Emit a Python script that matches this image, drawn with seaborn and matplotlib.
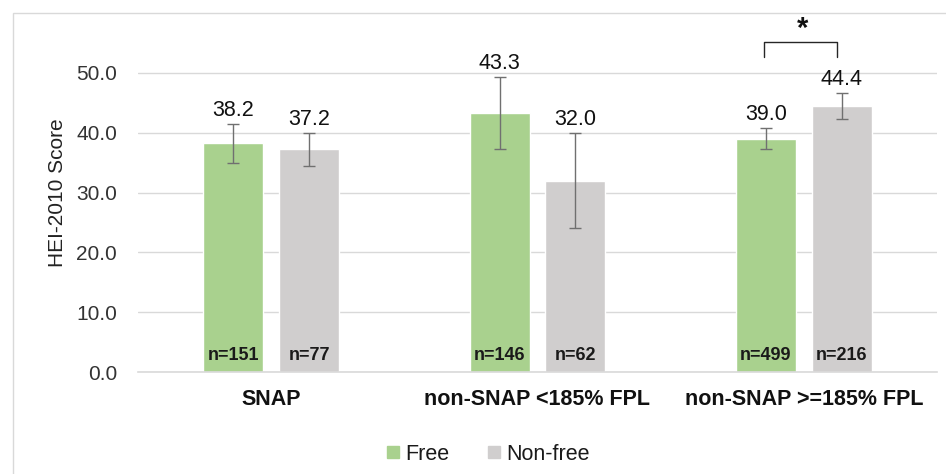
import matplotlib
matplotlib.use("Agg")
import matplotlib.pyplot as plt
import seaborn as sns
import pandas as pd
import numpy as np
from matplotlib.patches import Rectangle
from matplotlib.lines import Line2D

groups = ["SNAP", "non-SNAP <185% FPL", "non-SNAP >=185% FPL"]
lunch = ["Free", "Non-free"]
free_scores = [38.2, 43.3, 39.0]
nonfree_scores = [37.2, 32.0, 44.4]
free_err = [3.2, 6.05, 1.75]
nonfree_err = [2.8, 8.0, 2.15]
free_n = [151, 146, 499]
nonfree_n = [77, 62, 216]

df = pd.DataFrame({
    "group": groups * 2,
    "lunch": [lunch[0]] * 3 + [lunch[1]] * 3,
    "score": free_scores + nonfree_scores,
    "err": free_err + nonfree_err,
    "n": free_n + nonfree_n,
})

sns.set_theme(style="white")
plt.rcParams["font.family"] = ["Liberation Sans", "DejaVu Sans"]

palette = {"Free": "#A9D18E", "Non-free": "#D0CECE"}

fig = plt.figure(figsize=(9.46, 4.74), dpi=100)
ax = fig.add_axes([138 / 946, 1 - 372 / 474, (937 - 138) / 946, (372 - 13) / 474])

sns.barplot(data=df, x="group", y="score", hue="lunch", order=groups,
            hue_order=lunch, palette=palette, width=0.57, gap=0.21,
            errorbar=None, saturation=1, legend=False, ax=ax)

ax.set_ylim(0, 60)
ax.set_xlim(-0.5, 2.5)
ax.set_yticks([0, 10, 20, 30, 40, 50])
ax.set_yticklabels([f"{v:.1f}" for v in [0, 10, 20, 30, 40, 50]],
                   fontsize=15, color="#333333")
ax.tick_params(axis="y", length=0, pad=15)
ax.tick_params(axis="x", length=0, pad=12)
for lbl in ax.get_xticklabels():
    lbl.set_fontweight("bold")
    lbl.set_fontsize(15.5)
    lbl.set_color("#111111")
ax.set_xlabel("")
ax.set_ylabel("HEI-2010 Score", fontsize=15, color="#222222", labelpad=7)

ax.set_axisbelow(True)
ax.yaxis.grid(True, color="#D9D9D9", linewidth=1)
ax.xaxis.grid(False)
for s in ["top", "right", "left"]:
    ax.spines[s].set_visible(False)
ax.spines["bottom"].set_color("#D9D9D9")
ax.spines["bottom"].set_linewidth(1.2)

# error bars, value labels and n labels placed at the bars
bars = [p for p in ax.patches if p.get_width() > 0]
bars = sorted(bars, key=lambda p: p.get_x())
rows = []
for gi in range(3):
    rows.append((free_scores[gi], free_err[gi], free_n[gi]))
    rows.append((nonfree_scores[gi], nonfree_err[gi], nonfree_n[gi]))
for p, (val, err, n) in zip(bars, rows):
    xc = p.get_x() + p.get_width() / 2
    ax.errorbar(xc, val, yerr=err, fmt="none", ecolor="#707070",
                elinewidth=1, capsize=4, capthick=1)
    ax.annotate(f"{val:.1f}", (xc, val + err), xytext=(0, 3),
                textcoords="offset pixels", ha="center", va="bottom",
                fontsize=15.5, color="#111111")
    ax.text(xc, 2.7, f"n={n}", ha="center", va="center", fontsize=13,
            fontweight="bold", color="#1a1a1a")

# significance bracket
ax.plot([1.85, 1.85, 2.125, 2.125], [52.7, 55.1, 55.1, 52.7],
        color="#262626", linewidth=1, clip_on=False)
ax.text(1.997, 57.3, "*", ha="center", va="center", fontsize=21,
        fontweight="bold", color="#111111")

# chart border (left / top visible)
fig.add_artist(Rectangle((12.7 / 946, -0.1), 1.2, 1 - 12.7 / 474 + 0.1,
                         transform=fig.transFigure, fill=False,
                         edgecolor="#D9D9D9", linewidth=1))

handles = [Line2D([0], [0], marker="s", linestyle="none", markersize=9,
                  markerfacecolor=palette[k], markeredgecolor=palette[k])
           for k in lunch]
fig.legend(handles, lunch, loc="center", bbox_to_anchor=(488 / 946, 1 - 454 / 474),
           ncol=2, frameon=False, fontsize=15.5, handlelength=0.6,
           handletextpad=0.25, columnspacing=1.8, labelcolor="#1a1a1a")

fig.savefig("out.png", dpi=100)
